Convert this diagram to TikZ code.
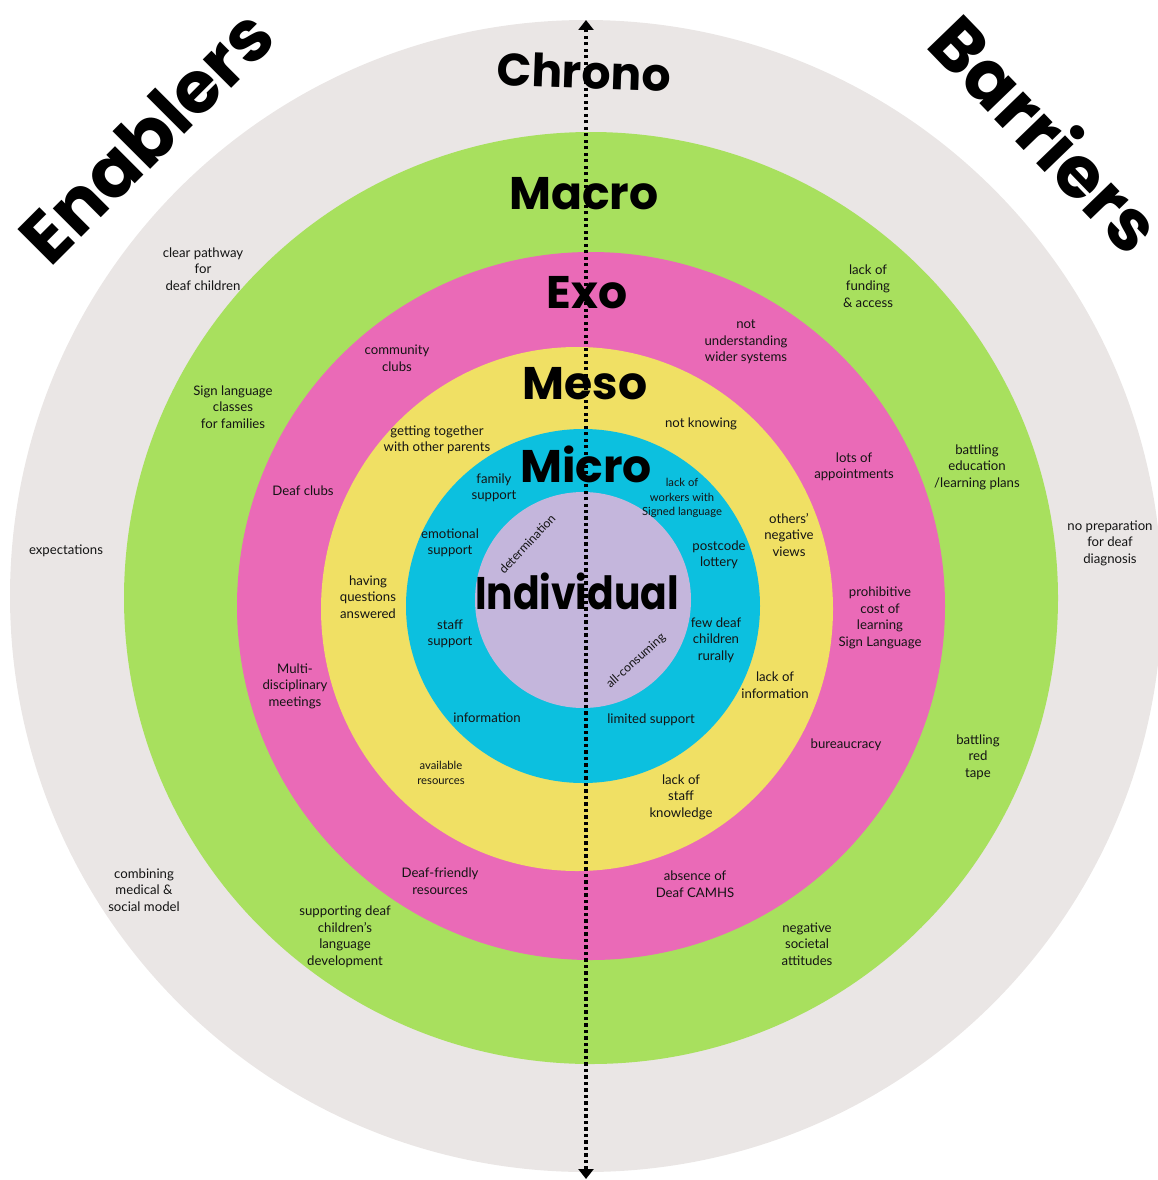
\documentclass[tikz,border=0pt]{standalone}
\usepackage{fontspec}
\setmainfont{Lato}
\newfontfamily\headfont{Poppins}
\usetikzlibrary{arrows.meta}
\definecolor{ChronoColor}{RGB}{234,230,229}
\definecolor{MacroColor}{RGB}{168,224,94}
\definecolor{ExoColor}{RGB}{234,106,183}
\definecolor{MesoColor}{RGB}{240,224,100}
\definecolor{MicroColor}{RGB}{12,192,223}
\definecolor{SelfColor}{RGB}{196,182,220}
\definecolor{InkColor}{RGB}{20,20,20}
\tikzstyle{layer} = [font=\headfont\bfseries\fontsize{26}{30}\selectfont, text=black, inner sep=0pt]
\tikzstyle{side} = [font=\headfont\bfseries\fontsize{41}{46}\selectfont, text=black, inner sep=0pt]
\tikzstyle{timeline} = [line width=0.07cm, dash pattern=on 0.065cm off 0.065cm, <->, >={Triangle[length=0.2cm, width=0.3cm]}]
\tikzset{
  factor/.style={align=center, inner sep=0pt, text=InkColor, font=\fontsize{7.5}{9.4}\selectfont},
  small factor/.style={factor, font=\fontsize{6.4}{8.2}\selectfont},
  arc word/.style={inner sep=0pt, text=InkColor, font=\fontsize{7}{8}\selectfont}
}

\begin{document}
\begin{tikzpicture}[x=0.02cm, y=-0.02cm]
    \useasboundingbox (0,0) rectangle (1158,1180);

    % Rings, outermost first
    \foreach \cx/\cy/\rx/\ry/\ring in {586/596/576/576/ChronoColor, 591/598/467/466/MacroColor, 591/606/354/354/ExoColor, 577/609/256/262/MesoColor, 583/606/177/177/MicroColor, 583/600/108/108/SelfColor} {
            \fill[\ring] (\cx,\cy) ellipse[x radius=\rx, y radius=\ry];
        }

    % Side headings
    \node[side, rotate=45] (enablers) at (146,136) {Enablers};
    \node[side, rotate=-46] (barriers) at (1047,133) {Barriers};

    % Layer names
    \node[layer, rotate=-2] (chrono) at (584,72) {Chrono};
    \node[layer] (macro) at (584,194) {Macro};
    \node[layer] (exo) at (587,293) {Exo};
    \node[layer] (meso) at (585,384) {Meso};
    \node[layer] (micro) at (586,464) {Micro};
    \node[layer, xscale=0.86, transform shape] (individual) at (577,591) {Individual};

    % Chrono
    \node[factor] (pathway) at (203,269) {clear pathway\\for\\deaf children};
    \node[factor] (expectations) at (66,551) {expectations};
    \node[factor] (combining) at (144,890) {combining\\medical \&\\social model};
    \node[factor] (preparation) at (1110,543) {no preparation\\for deaf\\diagnosis};

    % Macro
    \node[factor] (signclasses) at (233,407) {Sign language\\classes\\for families};
    \node[factor] (langdev) at (345,937) {supporting deaf\\children's\\language\\development};
    \node[factor] (funding) at (868,286) {lack of\\funding\\\& access};
    \node[factor] (eduplans) at (977,467) {battling\\education\\/learning plans};
    \node[factor] (redtape) at (978,757) {battling\\red\\tape};
    \node[factor] (attitudes) at (807,944) {negative\\societal\\attitudes};

    % Exo
    \node[factor] (community) at (397,358) {community\\clubs};
    \node[factor] (deafclubs) at (303,491) {Deaf clubs};
    \node[factor] (meetings) at (295,686) {Multi-\\disciplinary\\meetings};
    \node[factor] (friendly) at (440,881) {Deaf-friendly\\resources};
    \node[factor] (systems) at (746,342) {not\\understanding\\wider systems};
    \node[factor] (appointments) at (854,467) {lots of\\appointments};
    \node[factor] (cost) at (880,618) {prohibitive\\cost of\\learning\\Sign Language};
    \node[factor] (bureaucracy) at (846,745) {bureaucracy};
    \node[factor] (camhs) at (695,884) {absence of\\Deaf CAMHS};

    % Meso
    \node[factor] (together) at (437,440) {getting together\\with other parents};
    \node[factor] (questions) at (368,597) {having\\questions\\answered};
    \node[small factor] (available) at (441,773) {available\\resources};
    \node[factor] (knowing) at (701,424) {not knowing};
    \node[factor] (views) at (789,535) {others'\\negative\\views};
    \node[factor] (noinfo) at (775,685) {lack of\\information};
    \node[factor] (staffknow) at (681,797) {lack of\\staff\\knowledge};

    % Micro
    \node[factor] (family) at (494,488) {family\\support};
    \node[factor] (emotional) at (450,543) {emotional\\support};
    \node[factor] (staff) at (450,634) {staff\\support};
    \node[factor] (information) at (487,718) {information};
    \node[small factor] (workers) at (682,498) {lack of\\workers with\\Signed language};
    \node[factor] (postcode) at (719,555) {postcode\\lottery};
    \node[factor] (rurally) at (716,640) {few deaf\\children\\rurally};
    \node[factor] (limited) at (651,720) {limited support};

    % Individual
    \node[arc word, rotate=47] (determination) at (527,544) {determination};
    \node[arc word, rotate=42] (consuming) at (636,661) {all-consuming};

    % Time axis across every layer
    \coordinate (axis top) at (586,20);
    \coordinate (axis bottom) at (586,1179);
    \draw[timeline] (axis bottom) -- (axis top);
\end{tikzpicture}
\end{document}
